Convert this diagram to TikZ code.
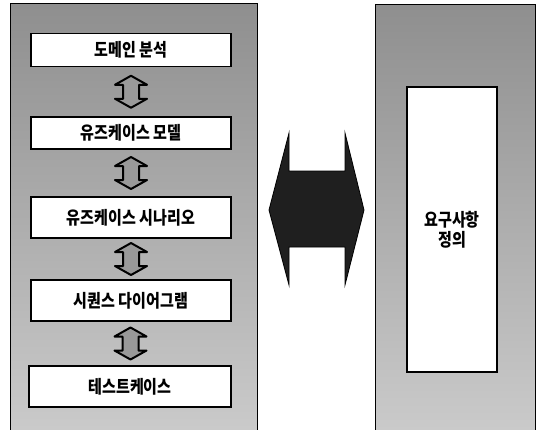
\documentclass[tikz,border=0pt]{standalone}
\usepackage{fontspec}
\newfontfamily\kr[FakeStretch=0.84]{Noto Sans CJK KR}
\usetikzlibrary{calc}
\tikzset{
  panel/.style={draw=black, line width=1.2bp, top color=black!44, bottom color=black!20, anchor=north west, inner sep=0pt},
  stepfont/.style={font=\kr\bfseries\fontsize{18}{20}\selectfont},
  stepbox/.style={draw=black, line width=1.4bp, fill=white, minimum width=200bp, inner sep=0pt, stepfont},
  vdarrow/.pic={
    \filldraw[fill=black!40, draw=black, line width=2bp, line join=round]
      (0,-16) -- (16,-7) -- (8,-7) -- (8,7) -- (16,7) -- (0,16) -- (-16,7) -- (-8,7) -- (-8,-7) -- (-16,-7) -- cycle;
  },
  bigarrow/.style={fill=black!88, draw=black, line width=0.8bp, line join=miter}
}
\begin{document}
\begin{tikzpicture}[x=1bp, y=-1bp]
\useasboundingbox (0,0) rectangle (539,429);
% panels
\node[panel, minimum width=247bp, minimum height=440bp] (L) at (10,3) {};
\node[panel, minimum width=160bp, minimum height=440bp] (R) at (375,4) {};
% step boxes
\node[stepbox, minimum height=33bp] (b1) at (131,50) {도메인 분석};
\node[stepbox, minimum height=32bp] (b2) at (131,133) {유즈케이스 모델};
\node[stepbox, minimum height=41bp] (b3) at (131,217.5) {유즈케이스 시나리오};
\node[stepbox, minimum height=41bp] (b4) at (131,300.5) {시퀀스 다이어그램};
\node[stepbox, minimum height=41bp, minimum width=202bp] (b5) at (130,386.5) {테스트케이스};
% small double arrows
\path ($(b1.south)!0.5!(b2.north)$) pic {vdarrow};
\path ($(b2.south)!0.5!(b3.north)$) pic {vdarrow};
\path ($(b3.south)!0.5!(b4.north)$) pic {vdarrow};
\path ($(b4.south)!0.5!(b5.north)$) pic {vdarrow};
% requirement box
\node[draw=black, line width=1.4bp, fill=white, minimum width=90bp, minimum height=285bp, inner sep=0pt,
      align=center, stepfont] (req) at (452,229.5) {요구사항\\정의};
% big double arrow between panels
\coordinate (c) at (316.5,209);
\filldraw[bigarrow]
  ($(c)+(-47.5,1)$) -- ($(c)+(-27.5,-76)$) -- ($(c)+(-27.5,-38)$) -- ($(c)+(28.5,-38)$) -- ($(c)+(28.5,-76)$)
  -- ($(c)+(47.5,1)$) -- ($(c)+(28.5,76)$) -- ($(c)+(28.5,38)$) -- ($(c)+(-27.5,38)$) -- ($(c)+(-27.5,76)$) -- cycle;
\end{tikzpicture}
\end{document}
